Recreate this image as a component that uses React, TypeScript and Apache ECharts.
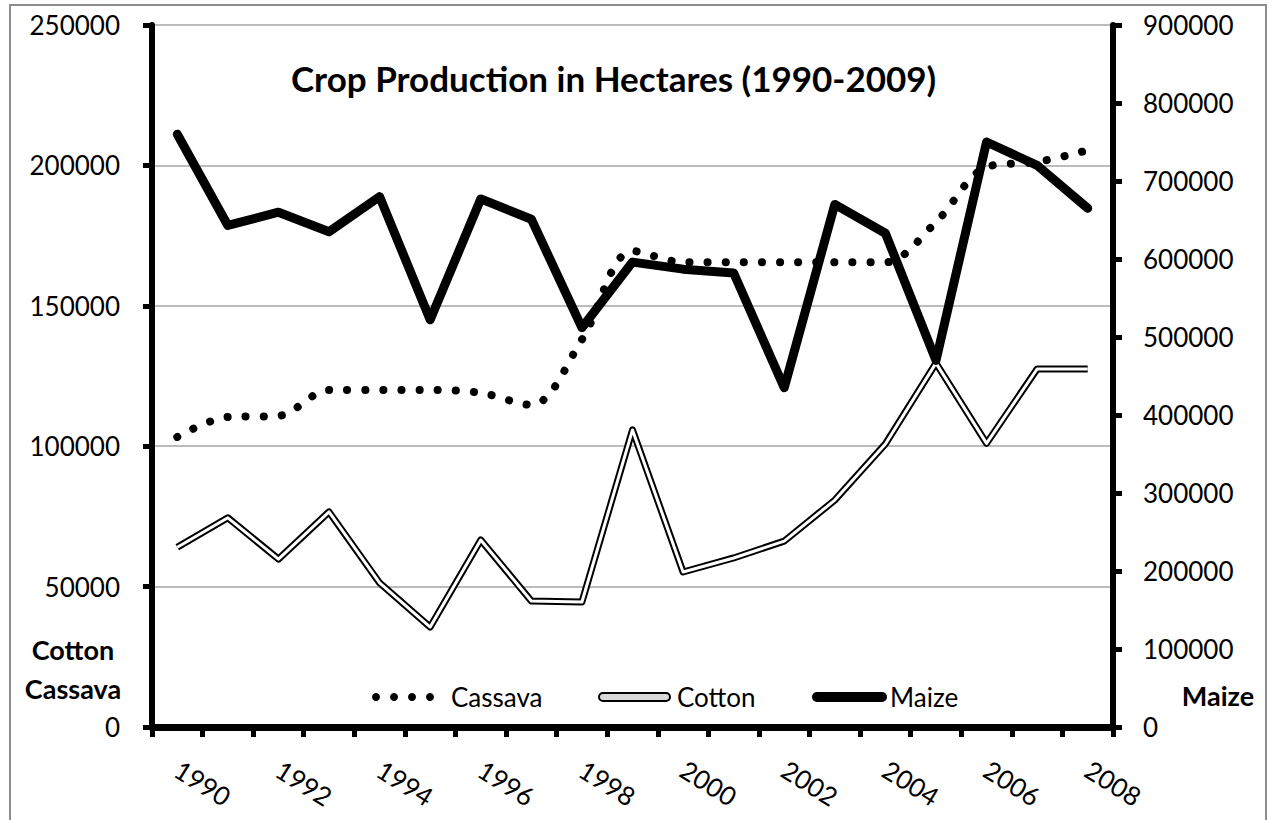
import React, { useEffect, useRef } from "react";
import * as echarts from "echarts";

const years = ["1990","1991","1992","1993","1994","1995","1996","1997","1998","1999","2000","2001","2002","2003","2004","2005","2006","2007","2008"];
const cassava = [103300,110400,110800,120000,120000,120000,119000,114700,138000,169500,165500,165500,165500,165500,165500,179800,199400,201200,205400];
const cotton = [64000,74500,59800,76600,51300,35600,66600,44900,44500,105800,55200,60200,66200,80800,100800,129600,101000,127500,127500];
const maize = [760000,643000,660000,635000,680000,522000,677000,651000,512000,596000,587000,582000,435000,670000,633000,470000,750000,720000,665000];
const leftAxis = { min: 0, max: 250000, interval: 50000 };
const rightAxis = { min: 0, max: 900000, interval: 100000 };
const titleText = "Crop Production in Hectares (1990-2009)";
const seriesNames = ["Cassava", "Cotton", "Maize"];

const FONT = "Lato";

export default function App() {
  const ref = useRef<HTMLDivElement>(null);
  useEffect(() => {
    if (!ref.current) return;
    const chart = echarts.init(ref.current, null, { renderer: "svg" });
    const labelStyle = { fontFamily: FONT, fontSize: 26, color: "#000" };
    const plain = (v: number) => String(v);
    const yCommon = {
      type: "value",
      axisLine: { show: true, lineStyle: { color: "#000", width: 6 } },
      axisTick: { show: true, length: 9, lineStyle: { color: "#000", width: 5 } },
    };
    chart.setOption({
      animation: false,
      backgroundColor: "#fff",
      title: {
        text: titleText,
        left: 286,
        top: 55,
        textStyle: { fontFamily: FONT, fontWeight: "bold", fontSize: 35, color: "#000" },
      },
      grid: { left: 152, right: 160, top: 25, bottom: 93, containLabel: false },
      xAxis: {
        type: "category",
        data: years,
        boundaryGap: true,
        axisLine: { show: true, lineStyle: { color: "#000", width: 7 } },
        axisTick: { show: true, interval: 0, length: 10, lineStyle: { color: "#000", width: 5 } },
        axisLabel: { ...labelStyle, interval: 1, rotate: -32, margin: 40 },
        splitLine: { show: false },
      },
      yAxis: [
        {
          ...yCommon,
          position: "left",
          ...leftAxis,
          axisLabel: { ...labelStyle, margin: 32, formatter: plain },
          splitLine: { show: true, lineStyle: { color: "#a6a6a6", width: 1.5 } },
        },
        {
          ...yCommon,
          position: "right",
          ...rightAxis,
          axisLabel: { ...labelStyle, margin: 30, formatter: plain },
          splitLine: { show: false },
        },
      ],
      series: [
        {
          name: seriesNames[0],
          type: "line",
          yAxisIndex: 0,
          data: cassava,
          smooth: 0.33,
          symbol: "none",
          lineStyle: { color: "#000", width: 8, type: [0.1, 18], cap: "round" },
          z: 2,
        },
        {
          name: seriesNames[1],
          type: "line",
          yAxisIndex: 0,
          data: cotton,
          symbol: "none",
          lineStyle: { color: "#000", width: 7, join: "round" },
          z: 3,
        },
        {
          name: seriesNames[1] + " inner",
          type: "line",
          yAxisIndex: 0,
          data: cotton,
          symbol: "none",
          lineStyle: { color: "#fff", width: 3, join: "round" },
          z: 4,
        },
        {
          name: seriesNames[2],
          type: "line",
          yAxisIndex: 1,
          data: maize,
          symbol: "none",
          lineStyle: { color: "#000", width: 9, cap: "round", join: "round" },
          z: 5,
        },
      ],
      graphic: [
        {
          type: "rect",
          shape: { x: 10, y: 5, width: 1256, height: 830 },
          style: { fill: "none", stroke: "#8c8c8c", lineWidth: 2 },
          silent: true,
          z: -1,
        },
        {
          type: "text",
          x: 73,
          y: 649,
          style: { text: "Cotton", font: `bold 27px ${FONT}`, fill: "#000", align: "center", verticalAlign: "middle" },
        },
        {
          type: "text",
          x: 73,
          y: 688,
          style: { text: "Cassava", font: `bold 27px ${FONT}`, fill: "#000", align: "center", verticalAlign: "middle" },
        },
        {
          type: "text",
          x: 1218,
          y: 695,
          style: { text: "Maize", font: `bold 27px ${FONT}`, fill: "#000", align: "center", verticalAlign: "middle" },
        },
        // legend
        { type: "circle", shape: { cx: 376, cy: 697, r: 4 }, style: { fill: "#000" } },
        { type: "circle", shape: { cx: 394, cy: 697, r: 4 }, style: { fill: "#000" } },
        { type: "circle", shape: { cx: 412, cy: 697, r: 4 }, style: { fill: "#000" } },
        { type: "circle", shape: { cx: 430, cy: 697, r: 4 }, style: { fill: "#000" } },
        {
          type: "text",
          x: 451,
          y: 697,
          style: { text: seriesNames[0], font: `26px ${FONT}`, fill: "#000", align: "left", verticalAlign: "middle" },
        },
        {
          type: "rect",
          shape: { x: 599, y: 693, width: 71, height: 8, r: 4 },
          style: { fill: "#d9d9d9", stroke: "#000", lineWidth: 2 },
        },
        {
          type: "text",
          x: 677,
          y: 697,
          style: { text: seriesNames[1], font: `26px ${FONT}`, fill: "#000", align: "left", verticalAlign: "middle" },
        },
        {
          type: "line",
          shape: { x1: 817, y1: 697, x2: 882, y2: 697 },
          style: { stroke: "#000", lineWidth: 10, lineCap: "round" },
        },
        {
          type: "text",
          x: 890,
          y: 697,
          style: { text: seriesNames[2], font: `26px ${FONT}`, fill: "#000", align: "left", verticalAlign: "middle" },
        },
      ],
    });
    return () => chart.dispose();
  }, []);
  return (
    <div
      ref={ref}
      style={{ position: "absolute", left: 0, top: 0, width: 1273, height: 820 }}
    />
  );
}
